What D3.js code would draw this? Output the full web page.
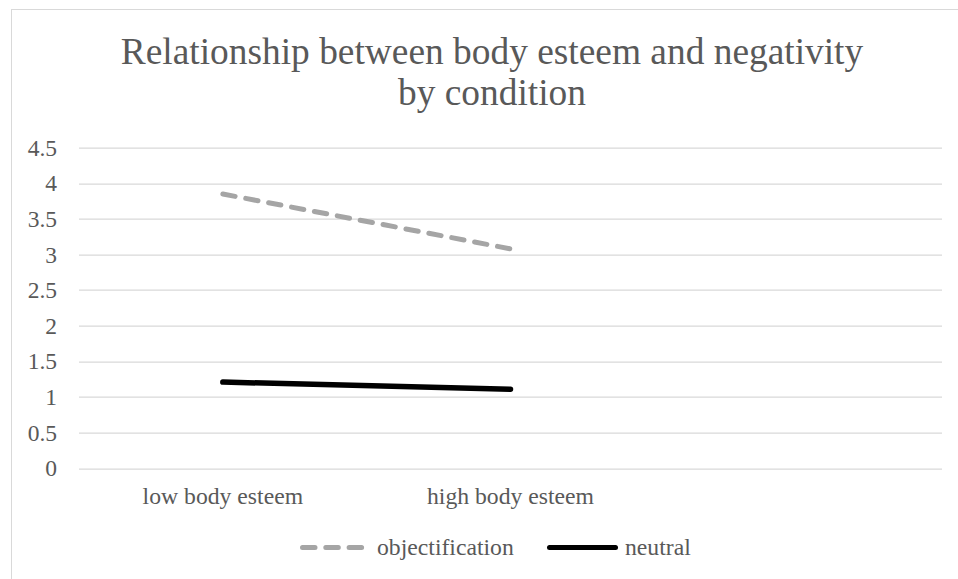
<!DOCTYPE html>
<html>
<head>
<meta charset="utf-8">
<script src="https://cdn.jsdelivr.net/npm/d3@7"></script>
<style>
  body { margin: 0; background: #fff; }
  text { font-family: "Liberation Serif", "Times New Roman", serif; fill: #595959; }
</style>
</head>
<body>
<div id="chart"></div>
<script>
// Chart data
const categories = ["low body esteem", "high body esteem", ""];
const objectification = [3.85, 3.08];
const neutral = [1.21, 1.11];
const yTicks = [0, 0.5, 1, 1.5, 2, 2.5, 3, 3.5, 4, 4.5];
const seriesNames = ["objectification", "neutral"];

const W = 958, H = 579;
const margin = { top: 147.7, right: 16, bottom: 110.7, left: 79 };
const width = W - margin.left - margin.right,
    height = H - margin.top - margin.bottom;

const svg = d3.select("#chart")
    .append("svg")
    .attr("width", W)
    .attr("height", H);

// Chart border (cropped on the right and bottom like the original)
svg.append("rect")
    .attr("x", 11.5)
    .attr("y", 9.5)
    .attr("width", 1000)
    .attr("height", 1000)
    .attr("fill", "none")
    .attr("stroke", "#d9d9d9")
    .attr("stroke-width", 1);

// Title
const title = svg.append("text")
    .attr("text-anchor", "middle")
    .style("font-size", "37.4px");
title.append("tspan").attr("x", 492).attr("y", 64).text("Relationship between body esteem and negativity");
title.append("tspan").attr("x", 492).attr("y", 105).text("by condition");

const g = svg.append("g")
    .attr("transform", `translate(${margin.left},${margin.top})`);

// Scales
const xScale = d3.scaleBand()
    .domain(categories)
    .range([0, width]);

const yScale = d3.scaleLinear()
    .domain([0, 4.5])
    .range([height, 0]);

// Gridlines
g.selectAll(".grid")
    .data(yTicks)
    .enter()
    .append("line")
    .attr("class", "grid")
    .attr("x1", 0)
    .attr("x2", width)
    .attr("y1", (d) => Math.round(yScale(d)) + 0.5)
    .attr("y2", (d) => Math.round(yScale(d)) + 0.5)
    .attr("stroke", "#d9d9d9")
    .attr("stroke-width", 1.3);

// Y axis labels
const yAxis = g.append("g")
    .call(d3.axisLeft(yScale).tickValues(yTicks).tickSize(0).tickPadding(22).tickFormat((d) => d));
yAxis.select(".domain").remove();
yAxis.selectAll("text")
    .style("font-size", "23.5px")
    .attr("fill", "#595959");

// X axis labels
const xAxis = g.append("g")
    .attr("transform", `translate(0,${height})`)
    .call(d3.axisBottom(xScale).tickSize(0).tickPadding(19));
xAxis.select(".domain").remove();
xAxis.selectAll("text")
    .style("font-size", "23.7px")
    .attr("fill", "#595959");

// Line generator
const line = d3.line()
    .x((d, i) => xScale(categories[i]) + xScale.bandwidth() / 2)
    .y((d) => yScale(d));

g.append("path")
    .attr("fill", "none")
    .attr("stroke", "#a5a5a5")
    .attr("stroke-width", 5)
    .attr("stroke-linecap", "round")
    .attr("stroke-dasharray", "12.5,10.8")
    .attr("d", line(objectification));

g.append("path")
    .attr("fill", "none")
    .attr("stroke", "#000")
    .attr("stroke-width", 5.5)
    .attr("stroke-linecap", "round")
    .attr("d", line(neutral));

// Legend
const legend = svg.append("g");
const legendItems = [
    { name: seriesNames[0], x: 302.5, len: 60, color: "#a5a5a5", dash: "12.5,10.8", textX: 377 },
    { name: seriesNames[1], x: 549.5, len: 66, color: "#000", dash: null, textX: 625 }
];
legendItems.forEach((d) => {
    legend.append("line")
        .attr("x1", d.x)
        .attr("x2", d.x + d.len)
        .attr("y1", 547.5)
        .attr("y2", 547.5)
        .attr("stroke", d.color)
        .attr("stroke-width", 5)
        .attr("stroke-linecap", "round")
        .attr("stroke-dasharray", d.dash);
    legend.append("text")
        .attr("x", d.textX)
        .attr("y", 555)
        .style("font-size", "23.7px")
        .text(d.name);
});
</script>
</body>
</html>
